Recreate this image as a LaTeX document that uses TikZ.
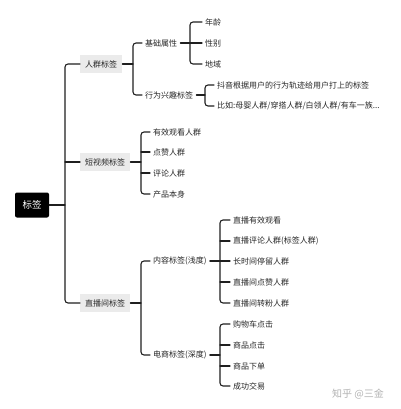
\documentclass[tikz,border=0pt]{standalone}
\usepackage{fontspec}
\setmainfont{Noto Sans CJK SC}
\begin{document}
\begin{tikzpicture}[x=1pt,y=-1pt,
  conn/.style={draw=black!88, line width=1.1pt, line cap=round},
  bracket/.style={conn, rounded corners=3pt},
  rootbox/.style={fill=black, text=white, rounded corners=2pt, minimum width=34pt, minimum height=25pt, inner sep=0pt, font=\fontsize{9.5}{11}\selectfont},
  lone/.style={fill=black!8, text=black!85, anchor=west, minimum height=18pt, inner xsep=5pt, inner ysep=0pt, font=\fontsize{8}{10}\selectfont},
  leaf/.style={text=black!85, anchor=west, inner xsep=3pt, inner ysep=2pt, font=\fontsize{8}{10}\selectfont},
  wm/.style={text=black!30, font=\fontsize{10}{12}\selectfont, inner sep=0pt}
]
\useasboundingbox (0,0) rectangle (400,409);
% nodes
\node[rootbox] (r) at (32,205) {标签};
\node[lone] (a) at (80,64) {人群标签};
\node[lone] (b) at (80,162) {短视频标签};
\node[lone] (c) at (80,303) {直播间标签};
\node[leaf] (a1) at (142,43) {基础属性};
\node[leaf] (a2) at (142,95) {行为兴趣标签};
\node[leaf] (a11) at (202,22) {年龄};
\node[leaf] (a12) at (202,43) {性别};
\node[leaf] (a13) at (202,64) {地域};
\node[leaf] (a21) at (214,85) {抖音根据用户的行为轨迹给用户打上的标签};
\node[leaf] (a22) at (214,106) {比如:母婴人群/穿搭人群/白领人群/有车一族...};
\node[leaf] (b1) at (150,132) {有效观看人群};
\node[leaf] (b2) at (150,152) {点赞人群};
\node[leaf] (b3) at (150,173) {评论人群};
\node[leaf] (b4) at (150,194) {产品本身};
\node[leaf] (c1) at (150,261) {内容标签(浅度)};
\node[leaf] (c2) at (150,355) {电商标签(深度)};
\node[leaf] (c11) at (230,220) {直播有效观看};
\node[leaf] (c12) at (230,241) {直播评论人群(标签人群)};
\node[leaf] (c13) at (230,261) {长时间停留人群};
\node[leaf] (c14) at (230,282) {直播间点赞人群};
\node[leaf] (c15) at (230,303) {直播间转粉人群};
\node[leaf] (c21) at (230,324) {购物车点击};
\node[leaf] (c22) at (230,345) {商品点击};
\node[leaf] (c23) at (230,366) {商品下单};
\node[leaf] (c24) at (230,386) {成功交易};
\node[wm] (w) at (358,394) {知乎 @三金};
% vertical bracket positions
\coordinate (vr) at (65,0);
\coordinate (va) at (133,0);
\coordinate (va1) at (190,0);
\coordinate (va2) at (205,0);
\coordinate (vb) at (141,0);
\coordinate (vc) at (141,0);
\coordinate (vc1) at (220,0);
\coordinate (vc2) at (220,0);
% brackets: first child to last child
\foreach \v/\f/\l in {vr/a/c, va/a1/a2, va1/a11/a13, va2/a21/a22, vb/b1/b4, vc/c1/c2, vc1/c11/c15, vc2/c21/c24}
  \draw[bracket] (\f.west) -- (\f.west -| \v) -- (\l.west -| \v) -- (\l.west);
% parent stubs
\foreach \p/\v in {r/vr, a/va, a1/va1, a2/va2, b/vb, c/vc, c1/vc1, c2/vc2}
  \draw[conn] (\p.east) -- (\p.east -| \v);
% middle ticks
\foreach \v/\m in {vr/b, va1/a12, vb/b2, vb/b3, vc1/c12, vc1/c13, vc1/c14, vc2/c22, vc2/c23}
  \draw[conn] (\m.west -| \v) -- (\m.west);
\end{tikzpicture}
\end{document}
